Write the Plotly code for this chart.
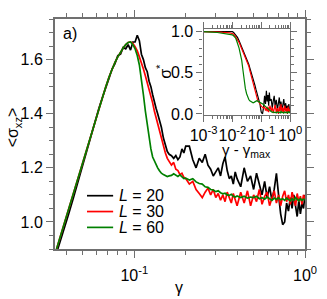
import plotly.graph_objects as go

# ---------------- main panel data ----------------
gamma = [0.035, 0.038, 0.041, 0.044, 0.047, 0.050, 0.053, 0.056, 0.059, 0.062,
         0.065, 0.068, 0.071, 0.074, 0.077, 0.080, 0.083, 0.086, 0.089, 0.092,
         0.095, 0.098, 0.101, 0.104, 0.107, 0.110, 0.113, 0.116, 0.119, 0.122,
         0.125, 0.128, 0.131, 0.134, 0.137, 0.140, 0.144, 0.148, 0.152, 0.156,
         0.160, 0.165, 0.170, 0.175, 0.180, 0.185, 0.190, 0.195, 0.200,
         0.21, 0.22, 0.23, 0.24, 0.25, 0.26, 0.27, 0.28, 0.29, 0.30,
         0.31, 0.32, 0.33, 0.34, 0.35, 0.36, 0.37, 0.38, 0.39, 0.40,
         0.42, 0.44, 0.46, 0.48, 0.50, 0.52, 0.54, 0.56, 0.58, 0.60,
         0.62, 0.64, 0.66, 0.68, 0.70, 0.72, 0.74, 0.76, 0.78, 0.80,
         0.82, 0.84, 0.86, 0.88, 0.90, 0.92, 0.94, 0.96, 0.98, 1.00]

sigma_L20 = [0.885, 0.955, 1.025, 1.09, 1.155, 1.215, 1.27, 1.325, 1.37, 1.42,
             1.46, 1.50, 1.53, 1.565, 1.585, 1.615, 1.62, 1.645, 1.64, 1.655,
             1.635, 1.665, 1.665, 1.69, 1.67, 1.62, 1.60, 1.57, 1.555, 1.52,
             1.50, 1.47, 1.44, 1.42, 1.40, 1.38, 1.35, 1.31, 1.28, 1.26,
             1.25, 1.245, 1.235, 1.245, 1.23, 1.24, 1.27, 1.255, 1.28,
             1.28, 1.23, 1.20, 1.235, 1.22, 1.25, 1.21, 1.195, 1.17, 1.185,
             1.20, 1.17, 1.215, 1.24, 1.19, 1.16, 1.17, 1.14, 1.185, 1.16,
             1.13, 1.20, 1.15, 1.17, 1.12, 1.18, 1.14, 1.10, 1.15, 1.09,
             1.13, 1.08, 1.12, 1.18, 1.10, 1.03, 0.99, 1.00, 1.07, 1.04,
             1.09, 1.05, 1.10, 1.06, 1.02, 1.08, 1.03, 1.07, 1.05, 1.10]

sigma_L30 = [0.90, 0.975, 1.044, 1.107, 1.168, 1.225, 1.277, 1.328, 1.376, 1.42,
             1.464, 1.50, 1.535, 1.565, 1.59, 1.61, 1.628, 1.643, 1.655, 1.663,
             1.665, 1.66, 1.648, 1.632, 1.61, 1.59, 1.565, 1.54, 1.515, 1.49,
             1.47, 1.44, 1.41, 1.385, 1.36, 1.34, 1.31, 1.285, 1.255, 1.235,
             1.225, 1.21, 1.22, 1.195, 1.19, 1.175, 1.18, 1.165, 1.16,
             1.14, 1.15, 1.12, 1.105, 1.09, 1.11, 1.125, 1.10, 1.12, 1.09,
             1.105, 1.08, 1.10, 1.075, 1.11, 1.09, 1.07, 1.105, 1.085, 1.06,
             1.11, 1.07, 1.115, 1.06, 1.10, 1.075, 1.12, 1.065, 1.095, 1.11,
             1.06, 1.09, 1.115, 1.07, 1.10, 1.06, 1.095, 1.115, 1.075, 1.10,
             1.065, 1.11, 1.08, 1.06, 1.105, 1.075, 1.095, 1.065, 1.10, 1.085]

sigma_L60 = [0.90, 0.975, 1.044, 1.107, 1.168, 1.225, 1.277, 1.328, 1.376, 1.42,
             1.464, 1.50, 1.535, 1.565, 1.59, 1.61, 1.628, 1.643, 1.655, 1.663,
             1.665, 1.655, 1.64, 1.615, 1.58, 1.53, 1.47, 1.41, 1.36, 1.31,
             1.27, 1.24, 1.225, 1.21, 1.20, 1.19, 1.18, 1.175, 1.17, 1.168,
             1.17, 1.172, 1.178, 1.172, 1.168, 1.174, 1.165, 1.16, 1.162,
             1.155, 1.16, 1.148, 1.142, 1.14, 1.13, 1.128, 1.12, 1.118, 1.112,
             1.115, 1.108, 1.104, 1.106, 1.10, 1.098, 1.102, 1.095, 1.092, 1.096,
             1.09, 1.095, 1.088, 1.092, 1.09, 1.095, 1.086, 1.09, 1.084, 1.092,
             1.086, 1.08, 1.088, 1.083, 1.09, 1.082, 1.086, 1.08, 1.088, 1.084,
             1.078, 1.086, 1.08, 1.09, 1.082, 1.078, 1.086, 1.08, 1.084, 1.082]

# ---------------- inset data ----------------
dgamma = [0.001, 0.0015, 0.002, 0.003, 0.004, 0.005, 0.006, 0.007, 0.008, 0.009,
          0.010, 0.011, 0.012, 0.013, 0.014, 0.015, 0.017, 0.019, 0.021, 0.023,
          0.025, 0.028, 0.031, 0.034, 0.037, 0.040, 0.044, 0.048, 0.052, 0.056,
          0.060, 0.065, 0.070, 0.075, 0.080, 0.085, 0.090, 0.095, 0.10, 0.11,
          0.12, 0.13, 0.14, 0.15, 0.16, 0.17, 0.18, 0.19, 0.20, 0.22,
          0.24, 0.26, 0.28, 0.30, 0.33, 0.36, 0.39, 0.42, 0.45, 0.48,
          0.52, 0.56, 0.60, 0.65, 0.70, 0.75, 0.80, 0.85, 0.90, 0.95, 1.0]

sstar_L20 = [1.0, 1.0, 1.0, 1.0, 1.0, 1.0, 1.0, 1.0, 1.0, 1.0,
             1.0, 0.99, 0.975, 0.96, 0.95, 0.93, 0.89, 0.85, 0.81, 0.78,
             0.76, 0.72, 0.67, 0.64, 0.60, 0.56, 0.51, 0.47, 0.45, 0.40,
             0.35, 0.30, 0.26, 0.21, 0.17, 0.15, 0.12, 0.06, 0.02, 0.0,
             0.08, 0.22, 0.12, 0.28, 0.15, 0.23, 0.10, 0.26, 0.16, 0.18,
             0.07, 0.16, 0.22, 0.10, 0.17, 0.05, 0.14, 0.20, 0.08, 0.15,
             0.04, 0.12, 0.18, 0.06, 0.13, 0.03, 0.10, 0.05, 0.12, 0.02, 0.06]

sstar_L30 = [1.0, 1.0, 1.0, 1.0, 0.995, 0.99, 0.99, 0.985, 0.985, 0.98,
             0.975, 0.97, 0.955, 0.94, 0.92, 0.90, 0.87, 0.83, 0.79, 0.76,
             0.74, 0.69, 0.65, 0.61, 0.58, 0.53, 0.47, 0.43, 0.37, 0.32,
             0.28, 0.23, 0.19, 0.165, 0.15, 0.13, 0.11, 0.10, 0.095, 0.08,
             0.07, 0.09, 0.04, 0.07, 0.03, 0.09, 0.02, 0.06, 0.10, 0.03,
             0.08, 0.01, 0.06, 0.11, 0.02, 0.07, 0.0, 0.09, 0.03, 0.12,
             0.02, 0.08, 0.01, 0.10, 0.03, 0.07, 0.0, 0.09, 0.02, 0.06, 0.03]

sstar_L60 = [1.0, 1.0, 0.995, 0.99, 0.985, 0.98, 0.978, 0.975, 0.97, 0.965,
             0.96, 0.95, 0.94, 0.92, 0.89, 0.86, 0.80, 0.72, 0.65, 0.54,
             0.42, 0.31, 0.245, 0.20, 0.175, 0.16, 0.15, 0.14, 0.135, 0.14,
             0.15, 0.16, 0.16, 0.155, 0.15, 0.14, 0.135, 0.13, 0.125, 0.12,
             0.115, 0.10, 0.09, 0.075, 0.065, 0.055, 0.045, 0.04, 0.035, 0.03,
             0.02, 0.025, 0.015, 0.02, 0.01, 0.025, 0.015, 0.02, 0.01, 0.03,
             0.015, 0.02, 0.01, 0.025, 0.015, 0.02, 0.01, 0.03, 0.015, 0.02, 0.01]

legend_labels = ["<i>L</i> = 20", "<i>L</i> = 30", "<i>L</i> = 60"]
main_ticks = [0.1, 1.0]
main_ticktext = ["10<sup>-1</sup>", "10<sup>0</sup>"]
inset_ticks = [0.001, 0.01, 0.1, 1.0]
inset_ticktext = ["10<sup>-3</sup>", "10<sup>-2</sup>", "10<sup>-1</sup>", "10<sup>0</sup>"]

colors = ["#000000", "#ff0000", "#008000"]
FONT = "Liberation Sans, Arial, sans-serif"
AX = "#707070"
W, H = 327, 299
L, R, T, B = 55, 313, 9.5, 249   # main plot area in pixels


def log_minors(lo_exp, hi_exp):
    out = []
    for e in range(lo_exp, hi_exp):
        for m in range(2, 10):
            out.append(m * 10.0 ** e)
    return out


fig = go.Figure()
for ys, c in zip([sigma_L20, sigma_L30, sigma_L60], colors):
    fig.add_trace(go.Scatter(x=gamma, y=ys, mode="lines", showlegend=False,
                             line=dict(color=c, width=1.7), xaxis="x", yaxis="y"))
for ys, c in zip([sstar_L20, sstar_L30, sstar_L60], colors):
    fig.add_trace(go.Scatter(x=dgamma, y=ys, mode="lines", showlegend=False,
                             line=dict(color=c, width=1.2), xaxis="x2", yaxis="y2"))

common = dict(showline=True, linecolor=AX, linewidth=2, mirror="allticks",
              ticks="outside", tickcolor=AX, ticklen=7, tickwidth=1.2,
              showgrid=False, zeroline=False, tickangle=0,
              tickfont=dict(family=FONT, size=16, color="black"))
inset_common = {**common, "linewidth": 1.2, "ticklen": 6}

fig.update_layout(
    width=W, height=H,
    margin=dict(l=L, r=W - R, t=T, b=H - B),
    paper_bgcolor="white", plot_bgcolor="white",
    font=dict(family=FONT, size=16, color="black"),
    showlegend=False,
    xaxis=dict(type="log", range=[-1.465, 0], tickmode="array",
               tickvals=main_ticks, ticktext=main_ticktext, ticklabelstandoff=4,
               minor=dict(ticks="outside", ticklen=4, tickcolor=AX, tickwidth=1.2,
                          tickmode="array", tickvals=log_minors(-2, 0)),
               domain=[0, 1], **common),
    yaxis=dict(range=[0.9, 1.75], dtick=0.2, tick0=0, tickformat=".1f",
               minor=dict(ticks="outside", ticklen=4, dtick=0.05, tickcolor=AX, tickwidth=1.2),
               domain=[0, 1], **common),
    xaxis2=dict(type="log", range=[-3, 0], tickmode="array",
                tickvals=inset_ticks, ticktext=inset_ticktext,
                anchor="y2", domain=[(208.3 - L) / (R - L), (297.7 - L) / (R - L)],
                minor=dict(ticks="outside", ticklen=3, tickcolor=AX,
                           tickmode="array", tickvals=log_minors(-3, 0)),
                **inset_common),
    yaxis2=dict(range=[-0.008, 1.037], dtick=0.5, tick0=0, tickformat=".1f",
                anchor="x2", domain=[(B - 109) / (B - T), (B - 19.5) / (B - T)],
                minor=dict(ticks="outside", ticklen=3, dtick=0.1, tickcolor=AX),
                **inset_common),
)


def px(xp):
    return (xp - L) / (R - L)


def py(yp):
    return (B - yp) / (B - T)


ann = [
    dict(text="a)", x=px(70), y=py(25), size=16, angle=0),
    dict(text="&lt;σ<sub>xz</sub>&gt;", x=px(12), y=py(122), size=16, angle=-90),
    dict(text="γ", x=px(183), y=py(289), size=16, angle=0),
    dict(text="γ - γ<sub>max</sub>", x=px(253), y=py(146), size=15, angle=0),
    dict(text="σ<sup>*</sup>", x=px(168), y=py(64), size=16, angle=-90),
]
for a in ann:
    fig.add_annotation(text=a["text"], x=a["x"], y=a["y"], xref="paper", yref="paper",
                       showarrow=False, textangle=a["angle"], xanchor="center", yanchor="middle",
                       font=dict(family=FONT, size=a["size"], color="black"))

# hand-drawn legend (line samples + labels)
for i, (lab, c) in enumerate(zip(legend_labels, colors)):
    yy = 193.5 + 16.5 * i
    fig.add_shape(type="line", xref="paper", yref="paper",
                  x0=px(88), x1=px(115), y0=py(yy), y1=py(yy),
                  line=dict(color=c, width=1.7))
    fig.add_annotation(text=lab, x=px(119), y=py(yy), xref="paper", yref="paper",
                       showarrow=False, xanchor="left", yanchor="middle",
                       font=dict(family=FONT, size=16, color="black"))

fig.write_html("out.html", config={"displayModeBar": False},
               post_script="document.body.style.margin='0px';")
